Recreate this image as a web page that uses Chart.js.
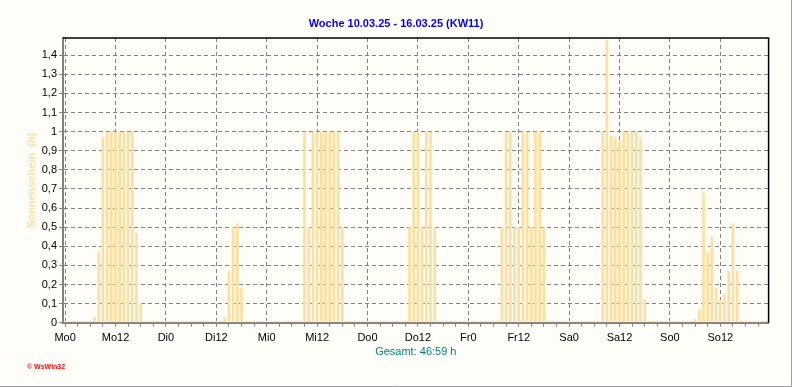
<!DOCTYPE html>
<html>
<head>
<meta charset="utf-8">
<script src="https://cdn.jsdelivr.net/npm/chart.js@4/dist/chart.umd.min.js"></script>
<style>
  html, body { margin: 0; padding: 0; background: #FFFDF8; }
  #wrap { width: 792px; height: 387px; position: relative; }
</style>
</head>
<body>
<div id="wrap"><canvas id="c" width="792" height="387"></canvas></div>
<script>
// ---- data (hourly sunshine, h per hour) ----
const chartTitle = 'Woche 10.03.25 - 16.03.25 (KW11)';
const totalText = 'Gesamt: 46:59 h';
const yAxisTitle = 'Sonnenschein  (h)';
const copyrightText = '© WsWin32';

const xTickLabels = ['Mo0','Mo12','Di0','Di12','Mi0','Mi12','Do0','Do12','Fr0','Fr12','Sa0','Sa12','So0','So12'];
const yTickValues = [0,0.1,0.2,0.3,0.4,0.5,0.6,0.7,0.8,0.9,1,1.1,1.2,1.3,1.4];
const yTickLabels = ['0','0,1','0,2','0,3','0,4','0,5','0,6','0,7','0,8','0,9','1','1,1','1,2','1,3','1,4'];

const mo = [0,0,0,0,0,0,0,0.03,0.37,0.97,1,1,1,1,1,1,1,0.47,0.10,0,0,0,0,0];
const di = [0,0,0,0,0,0,0,0,0,0,0,0,0,0,0.03,0.27,0.50,0.52,0.18,0,0,0,0,0];
const mi = [0,0,0,0,0,0,0,0,0,1,0.5,1,1,1,1,1,1,1,0.5,0,0,0,0,0];
const dO = [0,0,0,0,0,0,0,0,0,0,0.5,1,1,0.5,1,1,0.5,0,0,0,0,0,0,0];
const fr = [0,0,0,0,0,0,0,0,0.5,1,1,0.5,0.5,1,1,0.5,1,1,0.5,0,0,0,0,0];
const sa = [0,0,0,0,0,0,0,0,1,1.48,0.98,0.97,0.95,1,1,1,1,0.97,0.12,0,0,0,0,0];
const so = [0,0,0,0,0,0,0.02,0.07,0.68,0.37,0.45,0.18,0.12,0.15,0.27,0.52,0.27,0,0,0,0,0,0,0];

const hourly = [].concat(mo, di, mi, dO, fr, sa, so);
const points = hourly.map((v, h) => ({ x: h, y: v }));
const tickHours = [];
for (let h = 0; h < 168; h += 3) tickHours.push(h);

// ---- style ----
const FONT = '"Liberation Sans", Arial, sans-serif';
Chart.defaults.font.family = FONT;
const BG = '#FFFDF8';
const BAR = '#FFDF9F';
const GRID = '#808080';

const deco = {
  id: 'deco',
  beforeDraw(chart) {
    const ctx = chart.ctx;
    ctx.save();
    ctx.fillStyle = BG;
    ctx.fillRect(0, 0, chart.width, chart.height);
    ctx.restore();
  },
  afterDraw(chart) {
    const ctx = chart.ctx;
    const a = chart.chartArea;
    ctx.save();
    // top & right frame
    ctx.strokeStyle = '#000';
    ctx.lineWidth = 1.5;
    ctx.beginPath();
    ctx.moveTo(a.left, a.top);
    ctx.lineTo(a.right, a.top);
    ctx.lineTo(a.right, a.bottom);
    ctx.stroke();
    // outer panel edges
    ctx.strokeStyle = '#A0A0A0';
    ctx.lineWidth = 1;
    ctx.beginPath();
    ctx.moveTo(0, 386.5);
    ctx.lineTo(791.5, 386.5);
    ctx.lineTo(791.5, 0);
    ctx.stroke();
    // title
    ctx.textAlign = 'center';
    ctx.textBaseline = 'middle';
    ctx.fillStyle = '#0000FF';
    ctx.font = 'bold 11px ' + FONT;
    ctx.fillText(chartTitle, 396, 24);
    // total
    ctx.fillStyle = '#008080';
    ctx.font = '11px ' + FONT;
    ctx.fillText(totalText, (a.left + a.right) / 2, 352);
    // copyright
    ctx.textAlign = 'left';
    ctx.fillStyle = '#FF0000';
    ctx.font = 'bold 7px ' + FONT;
    ctx.fillText(copyrightText, 27, 367);
    ctx.restore();
  }
};

new Chart(document.getElementById('c'), {
  type: 'bar',
  data: {
    datasets: [{
      data: points,
      backgroundColor: BAR,
      borderWidth: 0,
      barPercentage: 0.8,
      categoryPercentage: 0.8,
      minBarLength: 2
    }]
  },
  options: {
    responsive: false,
    animation: false,
    devicePixelRatio: 1,
    layout: { padding: { top: 38, right: 23.4, bottom: 44.3, left: 0 } },
    plugins: { legend: { display: false }, tooltip: { enabled: false }, title: { display: false } },
    scales: {
      x: {
        type: 'linear',
        min: -0.5,
        max: 167.5,
        offset: false,
        afterBuildTicks: s => { s.ticks = tickHours.map(v => ({ value: v })); },
        afterFit: s => { s.height = 20; },
        ticks: {
          autoSkip: false, maxRotation: 0, minRotation: 0,
          padding: 4.5, color: '#000', font: { size: 11 },
          callback: v => (v % 12 === 0 ? xTickLabels[v / 12] : '')
        },
        grid: {
          offset: false,
          color: c => (c.tick && c.tick.value % 12 === 0) ? GRID : 'rgba(0,0,0,0)',
          tickColor: GRID,
          tickLength: 4,
          tickBorderDash: [],
          lineWidth: 1
        },
        border: { display: true, color: GRID, width: 2, dash: [4, 3] }
      },
      y: {
        type: 'linear',
        min: 0,
        max: 1.49,
        afterBuildTicks: s => { s.ticks = yTickValues.map(v => ({ value: v })); },
        afterFit: s => { s.width = 63; },
        ticks: {
          padding: 2, color: '#000', font: { size: 11 },
          callback: v => yTickLabels[Math.round(v * 10)]
        },
        grid: {
          color: GRID,
          tickColor: GRID,
          tickLength: 4,
          tickBorderDash: [],
          lineWidth: 1
        },
        border: { display: true, color: GRID, width: 2, dash: [4, 3] },
        title: {
          display: true,
          text: yAxisTitle,
          color: BAR,
          font: { size: 11, weight: 'bold' },
          padding: { top: 25.4, bottom: 0 }
        }
      }
    }
  },
  plugins: [deco]
});
</script>
</body>
</html>
